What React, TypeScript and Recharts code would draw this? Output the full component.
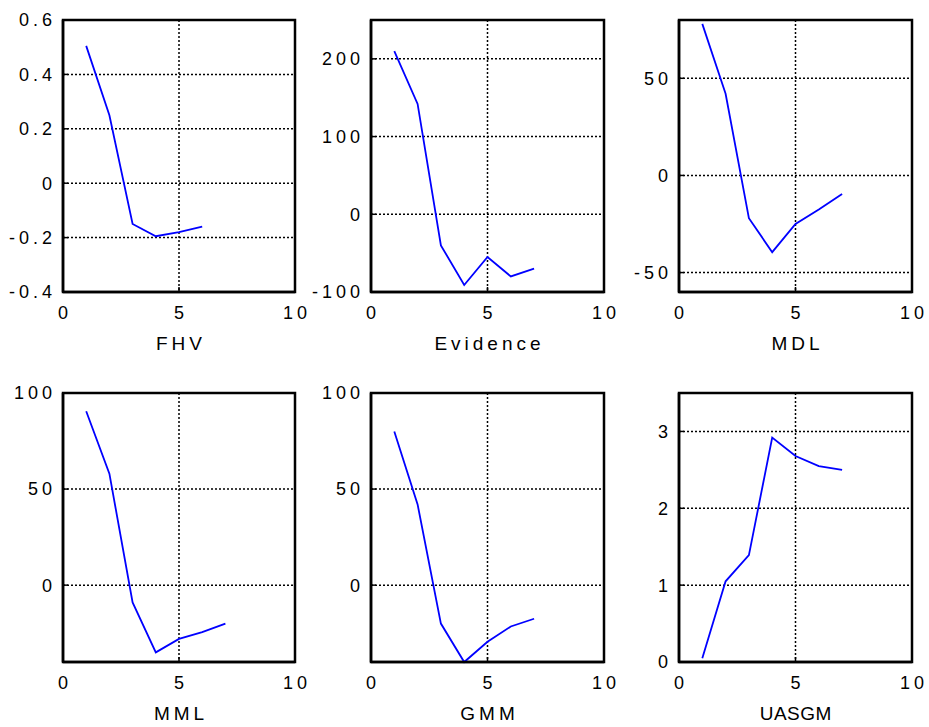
import React from 'react';
import { LineChart, Line, XAxis, YAxis, CartesianGrid, ReferenceArea } from 'recharts';

// ---- data ----
const xValues = [1, 2, 3, 4, 5, 6, 7];
const xTicks = [0, 5, 10];

const fhvValues = [0.505, 0.25, -0.15, -0.195, -0.18, -0.16];
const evidenceValues = [210, 142, -40, -91, -55, -80, -70];
const mdlValues = [78, 42, -22, -39.5, -25, -17.5, -9.5];
const mmlValues = [90.5, 58, -9, -35, -28, -24.5, -20];
const gmmValues = [80, 42, -20, -40, -29.5, -21.5, -17.5];
const uasgmValues = [0.05, 1.05, 1.39, 2.92, 2.68, 2.55, 2.5];

const fhvTicks = [-0.4, -0.2, 0, 0.2, 0.4, 0.6];
const evidenceTicks = [-100, 0, 100, 200];
const mdlTicks = [-50, 0, 50];
const mmlTicks = [0, 50, 100];
const gmmTicks = [0, 50, 100];
const uasgmTicks = [0, 1, 2, 3];

const titles = ['FHV', 'Evidence', 'MDL', 'MML', 'GMM', 'UASGM'];

const toData = (vals: number[]) => vals.map((v, i) => ({ x: xValues[i], y: v }));

const FONT = '"Liberation Sans", Arial, Helvetica, sans-serif';
const TICK_FS = 18;
const TICK_LS = 4;
const TITLE_FS = 19;

const YTick = (props: any) => {
  const { x, y, payload } = props;
  return (
    <text x={x + TICK_LS} y={y} dy="0.355em" textAnchor="end" fontFamily={FONT} fontSize={TICK_FS}
      letterSpacing={TICK_LS} fill="#000" stroke="none">{String(payload.value)}</text>
  );
};

const XTick = (props: any) => {
  const { x, y, payload } = props;
  return (
    <text x={x + TICK_LS / 2} y={y} dy="0.71em" textAnchor="middle" fontFamily={FONT} fontSize={TICK_FS}
      letterSpacing={TICK_LS} fill="#000" stroke="none">{String(payload.value)}</text>
  );
};

const EmptyTick = () => <g />;

type PanelProps = {
  left: number; top: number; plotW: number; plotH: number;
  data: { x: number; y: number }[]; domain: [number, number]; ticks: number[];
  title: string; titleSpacing: number;
};

const Panel = ({ left, top, plotW, plotH, data, domain, ticks, title, titleSpacing }: PanelProps) => {
  const yAxisW = 63;
  const mTop = 20;
  const mRight = 30;
  const xAxisH = 66;
  const width = yAxisW + plotW + mRight;
  const height = mTop + plotH + xAxisH;
  const axisLine = { stroke: '#000', strokeWidth: 2.5 };
  const tickLine = { stroke: '#000', strokeWidth: 1.5 };
  const TitleContent = (p: any) => {
    const vb = p.viewBox || {};
    return (
      <text x={vb.x + vb.width / 2 + titleSpacing / 2} y={vb.y + 58} textAnchor="middle" fontFamily={FONT}
        fontSize={TITLE_FS} letterSpacing={titleSpacing} fill="#000" stroke="none">{title}</text>
    );
  };
  return (
    <div style={{ position: 'absolute', left: left - yAxisW, top: top - mTop }}>
      <LineChart width={width} height={height} data={data}
        margin={{ top: mTop, right: mRight, bottom: 0, left: 0 }}>
        <CartesianGrid stroke="#000" strokeWidth={1.5} strokeDasharray="2 2" />
        <XAxis dataKey="x" type="number" domain={[0, 10]} ticks={xTicks} height={xAxisH}
          stroke="#000" strokeWidth={2.5}
          axisLine={axisLine} tickLine={tickLine} tickSize={-5} tickMargin={19} tick={XTick}
          interval={0} label={{ content: TitleContent }} />
        <XAxis xAxisId="t" orientation="top" type="number" domain={[0, 10]} ticks={xTicks} height={0}
          stroke="#000" strokeWidth={2.5}
          axisLine={axisLine} tickLine={tickLine} tickSize={-5} tick={EmptyTick} interval={0} />
        <YAxis type="number" domain={domain} ticks={ticks} width={yAxisW}
          stroke="#000" strokeWidth={2.5} axisLine={axisLine}
          tickLine={tickLine} tickSize={-5} tickMargin={16} tick={YTick} interval={0} />
        <YAxis yAxisId="r" orientation="right" type="number" domain={domain} ticks={ticks} width={0}
          stroke="#000" strokeWidth={2.5}
          axisLine={axisLine} tickLine={tickLine} tickSize={-5} tick={EmptyTick} interval={0} />
        <ReferenceArea x1={0} x2={10} y1={domain[0]} y2={domain[1]} fill="none" fillOpacity={0}
          stroke="#000" strokeWidth={2.5} strokeOpacity={1} />
        <Line type="linear" dataKey="y" stroke="#0000ff" strokeWidth={1.8} dot={false}
          isAnimationActive={false} />
      </LineChart>
    </div>
  );
};

export default function App() {
  const row1Top = 20, row1H = 272;
  const row2Top = 393, row2H = 269;
  return (
    <div style={{ position: 'absolute', left: 0, top: 0, width: 929, height: 727, background: '#fff' }}>
      <Panel left={63} top={row1Top} plotW={232} plotH={row1H} data={toData(fhvValues)}
        domain={[-0.4, 0.6]} ticks={fhvTicks} title={titles[0]} titleSpacing={4} />
      <Panel left={371} top={row1Top} plotW={233} plotH={row1H} data={toData(evidenceValues)}
        domain={[-100, 250]} ticks={evidenceTicks} title={titles[1]} titleSpacing={4} />
      <Panel left={679} top={row1Top} plotW={233} plotH={row1H} data={toData(mdlValues)}
        domain={[-60, 80]} ticks={mdlTicks} title={titles[2]} titleSpacing={4} />
      <Panel left={63} top={row2Top} plotW={232} plotH={row2H} data={toData(mmlValues)}
        domain={[-40, 100]} ticks={mmlTicks} title={titles[3]} titleSpacing={4} />
      <Panel left={371} top={row2Top} plotW={233} plotH={row2H} data={toData(gmmValues)}
        domain={[-40, 100]} ticks={gmmTicks} title={titles[4]} titleSpacing={4} />
      <Panel left={679} top={row2Top} plotW={233} plotH={row2H} data={toData(uasgmValues)}
        domain={[0, 3.5]} ticks={uasgmTicks} title={titles[5]} titleSpacing={0.5} />
    </div>
  );
}
